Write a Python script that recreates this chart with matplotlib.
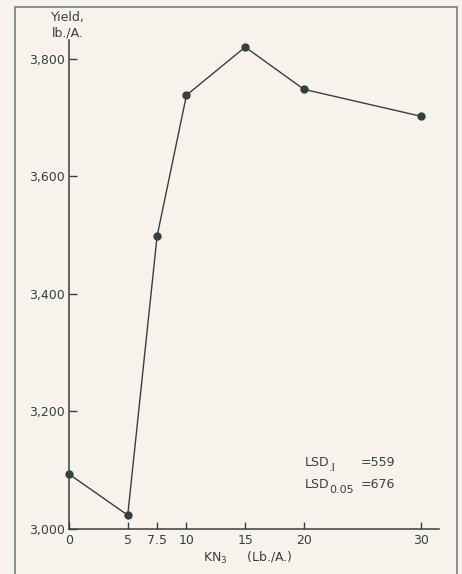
import matplotlib
matplotlib.use('Agg')
import matplotlib.pyplot as plt
from matplotlib.patches import Rectangle

# data
kn3_rate = [0, 5, 7.5, 10, 15, 20, 30]
yield_lb = [3093, 3023, 3498, 3738, 3820, 3748, 3702]

x_ticks = [0, 5, 7.5, 10, 15, 20, 30]
x_tick_labels = ['0', '5', '7.5', '10', '15', '20', '30']
y_ticks = [3000, 3200, 3400, 3600, 3800]
y_tick_labels = ['3,000', '3,200', '3,400', '3,600', '3,800']

lsd_subs = ['.I', '0.05']
lsd_values = ['=559', '=676']

paper = '#f7f3ec'
ink = '#34403f'

plt.rcParams['font.family'] = 'DejaVu Sans'
plt.rcParams['mathtext.fontset'] = 'dejavusans'

fig = plt.figure(figsize=(4.62, 5.74), dpi=100, facecolor=paper)
W, H = 462.0, 574.0
ax = fig.add_axes([69 / W, 1 - 528.7 / H, 370 / W, 488.7 / H])
ax.set_facecolor('none')

ax.plot(kn3_rate, yield_lb, color=ink, lw=1.0, marker='o',
        markersize=5, markerfacecolor=ink, markeredgecolor=ink, clip_on=False)

ax.set_xlim(0, 31.5)
ax.set_ylim(3000, 3832)

ax.spines['top'].set_visible(False)
ax.spines['right'].set_visible(False)
for s in ['left', 'bottom']:
    ax.spines[s].set_color(ink)
    ax.spines[s].set_linewidth(1.1)

ax.set_xticks(x_ticks)
ax.set_xticklabels(x_tick_labels)
ax.set_yticks(y_ticks)
ax.set_yticklabels(y_tick_labels)
ax.tick_params(axis='x', direction='in', length=5, width=1.0, pad=4,
               colors=ink, labelsize=9)
ax.tick_params(axis='y', direction='in', length=6, width=1.0, pad=3,
               colors=ink, labelsize=9)

ax.set_xlabel(r'KN$_3$     (Lb./A.)', fontsize=9, color=ink)
ax.xaxis.set_label_coords((248 - 69) / 370.0, -0.044)

fig.text(68 / W, 1 - 25.5 / H, 'Yield,\nlb./A.', ha='center', va='center',
         fontsize=9, color=ink, linespacing=1.25)

# LSD note, subscripts drawn as separate smaller text
for i, (sub, val) in enumerate(zip(lsd_subs, lsd_values)):
    yy = 463 + 22 * i
    fig.text(305 / W, 1 - yy / H, 'LSD', ha='left', va='center',
             fontsize=9, color=ink)
    fig.text(329 / W, 1 - (yy + 5) / H, sub, ha='left', va='center',
             fontsize=8, color=ink)
    fig.text(361 / W, 1 - yy / H, val, ha='left', va='center',
             fontsize=9, color=ink)

# frame round the figure as in the scan
frame = Rectangle((15 / W, -0.05), 442 / W, 1.05 - 7 / H,
                  transform=fig.transFigure, fill=False,
                  edgecolor='#7d8a8a', lw=1.3)
fig.add_artist(frame)

fig.savefig('out.png', dpi=100, facecolor=paper)
